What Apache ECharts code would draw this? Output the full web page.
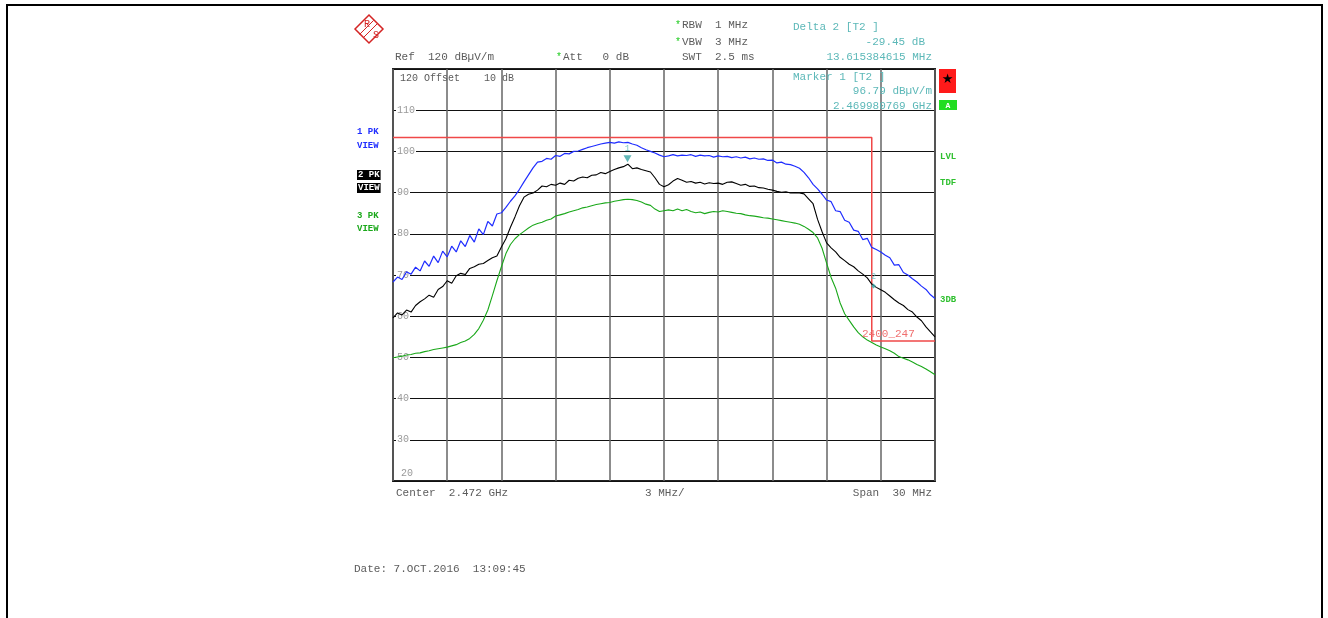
<!DOCTYPE html>
<html>
<head>
<meta charset="utf-8">
<title>Spectrum 2.472 GHz</title>
<script src="https://cdn.jsdelivr.net/npm/echarts@6/dist/echarts.min.js"></script>
<style>
  html, body { margin: 0; padding: 0; background: #fff; }
  #main { width: 1328px; height: 618px; }
</style>
</head>
<body>
<div id="main"></div>
<script>
// sweep: 2457 .. 2487 MHz, one reading every 0.25 MHz (121 points)
const startMHz = 2457;
const stepMHz = 0.25;

// trace 1 (PK, blue), dBuV/m
const trace1 = [
  68.3, 69.5, 68.9, 70.8, 70.2, 71.9, 71.0, 73.4, 72.1, 74.6, 73.0, 75.8,
  74.4, 77.0, 75.6, 78.3, 76.9, 79.6, 78.0, 81.2, 79.8, 83.0, 81.9, 84.8,
  85.1, 86.4, 87.9, 89.2, 90.8, 92.6, 94.3, 96.0, 97.4, 97.6, 98.3, 98.1,
  99.0, 98.8, 99.5, 99.4, 100.0, 100.1, 100.5, 100.9, 101.2, 101.5, 101.8, 102.0,
  102.2, 102.0, 102.3, 102.1, 102.2, 101.8, 101.5, 100.9, 100.4, 100.0, 99.6, 99.1,
  98.7, 98.9, 99.2, 98.9, 99.1, 99.0, 99.2, 98.8, 99.1, 98.9, 99.0, 98.6,
  98.9, 98.7, 98.8, 98.5, 98.7, 98.4, 98.6, 98.2, 98.4, 98.1, 98.2, 97.8,
  97.9, 97.2, 97.4, 96.9, 96.8, 96.4, 95.9, 94.9, 93.6, 92.0, 90.9, 89.6,
  88.2, 87.8, 85.6, 85.4, 83.3, 82.8, 80.9, 80.6, 78.6, 78.9, 76.7, 76.2,
  75.6, 74.8, 74.2, 72.4, 72.5, 70.6, 70.0, 69.1, 68.3, 67.3, 66.5, 65.2,
  64.3
];

// trace 2 (PK, black)
const trace2 = [
  59.6, 60.8, 60.3, 61.5, 61.0, 62.6, 63.5, 64.2, 65.1, 64.6, 66.5, 67.2,
  68.6, 68.0, 69.8, 70.4, 70.1, 71.6, 72.0, 72.6, 72.8, 73.5, 74.2, 74.6,
  76.8, 78.8, 81.6, 84.1, 86.8, 88.9, 89.6, 89.9, 90.6, 91.6, 91.4, 92.0,
  91.8, 92.3, 92.0, 93.0, 92.8, 93.5, 93.8, 93.6, 94.2, 94.3, 94.9, 94.6,
  95.1, 95.6, 96.0, 96.3, 96.9, 95.8, 96.0, 95.6, 95.3, 95.0, 93.6, 92.0,
  91.4, 91.9, 92.8, 93.4, 93.0, 92.5, 92.7, 92.3, 92.5, 92.1, 92.4, 92.2,
  92.3, 92.0, 92.5, 92.6, 92.2, 91.8, 92.0, 91.5, 91.6, 91.2, 91.1, 90.8,
  90.6, 90.3, 90.1, 90.2, 89.9, 90.0, 89.9, 89.7, 88.5, 87.3, 83.5, 80.5,
  77.8, 76.6, 75.6, 74.3, 73.5, 72.6, 72.0, 71.0, 70.2, 69.3, 67.8, 67.0,
  66.4, 65.8, 64.9, 64.0, 63.2, 62.6, 61.6, 61.0, 59.8, 58.9, 57.4, 56.2,
  55.0
];

// trace 3 (PK, green)
const trace3 = [
  49.9, 50.1, 50.3, 50.6, 50.7, 51.0, 51.1, 51.4, 51.6, 51.9, 52.1, 52.3,
  52.5, 52.8, 53.1, 53.6, 54.0, 54.6, 55.6, 57.0, 59.0, 61.5, 65.0, 68.6,
  72.0, 75.2, 77.4, 78.8, 79.8, 80.6, 81.4, 82.1, 82.5, 82.8, 83.3, 83.6,
  84.3, 84.6, 84.9, 85.3, 85.6, 85.9, 86.3, 86.5, 86.8, 87.1, 87.3, 87.5,
  87.6, 87.9, 88.1, 88.3, 88.4, 88.3, 88.1, 87.7, 87.2, 86.9, 86.0, 85.4,
  85.6, 85.8, 85.6, 86.0, 85.6, 85.9, 85.4, 85.1, 85.3, 84.9, 85.2, 85.4,
  85.3, 85.6, 85.4, 85.2, 85.0, 84.9, 84.6, 84.4, 84.3, 84.1, 83.9, 83.8,
  83.6, 83.4, 83.2, 83.0, 82.8, 82.6, 82.3, 81.8, 81.1, 80.3, 79.0, 76.5,
  72.9, 69.4, 66.8, 63.2, 60.6, 59.0, 57.4, 56.0, 55.0, 54.2, 53.6, 53.0,
  52.5, 52.1, 51.6, 51.0, 50.2, 49.8, 49.4, 48.9, 48.3, 47.8, 47.2, 46.5,
  45.8
];

// limit line 2400_247
const limitFreq = [2457, 2483.5, 2483.5, 2487];
const limitLevel = [103.4, 103.4, 54, 54];

// markers
const marker1 = { freq: 2469.980769, level: 96.79 };
const marker2 = { freq: 2483.596154, level: 67.34 };

const mono = '"Liberation Mono", "DejaVu Sans Mono", monospace';
const grey = '#5c5c5c';
const teal = '#5cb8b8';
const blue = '#1f2dff';
const green = '#1aa81a';

const pairs = arr => arr.map((v, i) => [startMHz + i * stepMHz, v]);

function txt(text, x, y, color, opts) {
  opts = opts || {};
  return {
    type: 'text',
    z: 100,
    style: {
      text: text,
      x: x,
      y: y,
      fill: color || grey,
      font: (opts.bold ? 'bold ' : '') + (opts.size || 11) + 'px ' + (opts.family || mono),
      textAlign: opts.align || 'left',
      textVerticalAlign: 'middle',
      backgroundColor: opts.bg,
      padding: opts.bg ? [1, 1, 0, 1] : 0
    }
  };
}

const chart = echarts.init(document.getElementById('main'), null, { renderer: 'canvas' });

const option = {
  backgroundColor: '#fff',
  animation: false,
  grid: {
    left: 393, top: 69, width: 542, height: 412,
    show: true, borderColor: '#222', borderWidth: 2,
    backgroundColor: 'transparent'
  },
  xAxis: {
    type: 'value',
    min: 2457, max: 2487, interval: 3,
    axisLine: { show: false },
    axisTick: { show: false },
    axisLabel: { show: false },
    splitLine: { show: true, lineStyle: { color: '#666', width: 1.5 } }
  },
  yAxis: {
    type: 'value',
    min: 20, max: 120, interval: 10,
    axisLine: { show: false },
    axisTick: { show: false },
    axisLabel: {
      inside: true, margin: 3,
      color: '#999', fontFamily: mono, fontSize: 10,
      backgroundColor: '#fff', padding: [0, 1],
      formatter: v => (v === 120 || v === 20) ? '' : String(v)
    },
    splitLine: { show: true, lineStyle: { color: '#111', width: 1 } }
  },
  series: [
    {
      name: 'limit', type: 'line', symbol: 'none', z: 3,
      data: limitFreq.map((f, i) => [f, limitLevel[i]]),
      lineStyle: { color: '#f04848', width: 1.5 }
    },
    {
      name: '3 PK', type: 'line', symbol: 'none', z: 4,
      data: pairs(trace3),
      lineStyle: { color: green, width: 1.1 }
    },
    {
      name: '2 PK', type: 'line', symbol: 'none', z: 5,
      data: pairs(trace2),
      lineStyle: { color: '#000', width: 1.1 }
    },
    {
      name: '1 PK', type: 'line', symbol: 'none', z: 6,
      data: pairs(trace1),
      lineStyle: { color: blue, width: 1.2 }
    },
    {
      name: 'markers', type: 'scatter', z: 8,
      data: [
        { value: [marker1.freq, marker1.level], symbol: 'triangle', symbolRotate: 180,
          symbolSize: [8, 7], symbolOffset: [0, -6], label: { formatter: '1' } },
        { value: [marker2.freq, marker2.level], symbol: 'diamond',
          symbolSize: 5, symbolOffset: [0, 0], label: { formatter: '2' } }
      ],
      itemStyle: { color: '#3aa6a6' },
      label: {
        show: true, position: 'top', distance: 2,
        color: teal, fontFamily: mono, fontSize: 9
      }
    }
  ],
  graphic: [
    // outer frame
    { type: 'rect', z: 0, shape: { x: 7, y: 5, width: 1315, height: 640 },
      style: { fill: 'none', stroke: '#000', lineWidth: 2 } },
    // R&S logo
    { type: 'polygon', z: 100,
      shape: { points: [[355, 29], [369, 15], [383, 29], [369, 43]] },
      style: { fill: '#fff', stroke: '#d42424', lineWidth: 1.5 } },
    { type: 'line', z: 101, shape: { x1: 359.6, y1: 34.4, x2: 373.6, y2: 20.4 },
      style: { stroke: '#d42424', lineWidth: 1 } },
    { type: 'line', z: 101, shape: { x1: 363.4, y1: 37.6, x2: 377.4, y2: 23.6 },
      style: { stroke: '#d42424', lineWidth: 1 } },
    txt('R', 364, 24, '#d42424', { size: 10 }),
    txt('S', 373, 35, '#d42424', { size: 10 }),

    // header
    txt('*', 675, 25, '#22cc22', { size: 10 }),
    txt('RBW  1 MHz', 682, 25),
    txt('*', 675, 42, '#22cc22', { size: 10 }),
    txt('VBW  3 MHz', 682, 42),
    txt('SWT  2.5 ms', 682, 57),
    txt('Ref  120 dB\u00b5V/m', 395, 57),
    txt('*', 556, 57, '#22cc22', { size: 10 }),
    txt('Att   0 dB', 563, 57),
    txt('Delta 2 [T2 ]', 793, 27, teal),
    txt('-29.45 dB', 925, 42, teal, { align: 'right' }),
    txt('13.615384615 MHz', 932, 57, teal, { align: 'right' }),
    txt('Marker 1 [T2 ]', 793, 77, teal),
    txt('96.79 dB\u00b5V/m', 932, 91, teal, { align: 'right' }),
    txt('2.469980769 GHz', 932, 106, teal, { align: 'right' }),
    txt('120 Offset    10 dB', 400, 78, grey, { size: 10 }),
    txt('20', 401, 473, '#999', { size: 10 }),

    // trace labels on the left
    txt('1 PK', 357, 132, blue, { bold: true, size: 9 }),
    txt('VIEW', 357, 146, blue, { bold: true, size: 9 }),
    txt('2 PK', 357, 175, '#fff', { bold: true, size: 9, bg: '#000' }),
    txt('VIEW', 357, 188, '#fff', { bold: true, size: 9, bg: '#000' }),
    txt('3 PK', 357, 216, green, { bold: true, size: 9 }),
    txt('VIEW', 357, 229, green, { bold: true, size: 9 }),

    // right side status
    { type: 'rect', z: 100, shape: { x: 939, y: 69, width: 17, height: 24 },
      style: { fill: '#ff1a1a' } },
    txt('\u2605', 947.5, 80, '#000', { size: 13, align: 'center', family: '"DejaVu Sans", sans-serif' }),
    { type: 'rect', z: 100, shape: { x: 939, y: 100, width: 18, height: 10 },
      style: { fill: '#22dd22' } },
    txt('A', 948, 105.5, '#fff', { bold: true, size: 8, align: 'center' }),
    txt('LVL', 940, 157, '#30c030', { bold: true, size: 9 }),
    txt('TDF', 940, 183, '#30c030', { bold: true, size: 9 }),
    txt('3DB', 940, 300, '#30c030', { bold: true, size: 9 }),

    // limit line label
    txt('2400_247', 862, 334, '#f07070', { size: 11 }),

    // footer
    txt('Center  2.472 GHz', 396, 493),
    txt('3 MHz/', 645, 493),
    txt('Span  30 MHz', 932, 493, grey, { align: 'right' }),
    txt('Date: 7.OCT.2016  13:09:45', 354, 569)
  ]
};

chart.setOption(option);
</script>
</body>
</html>
